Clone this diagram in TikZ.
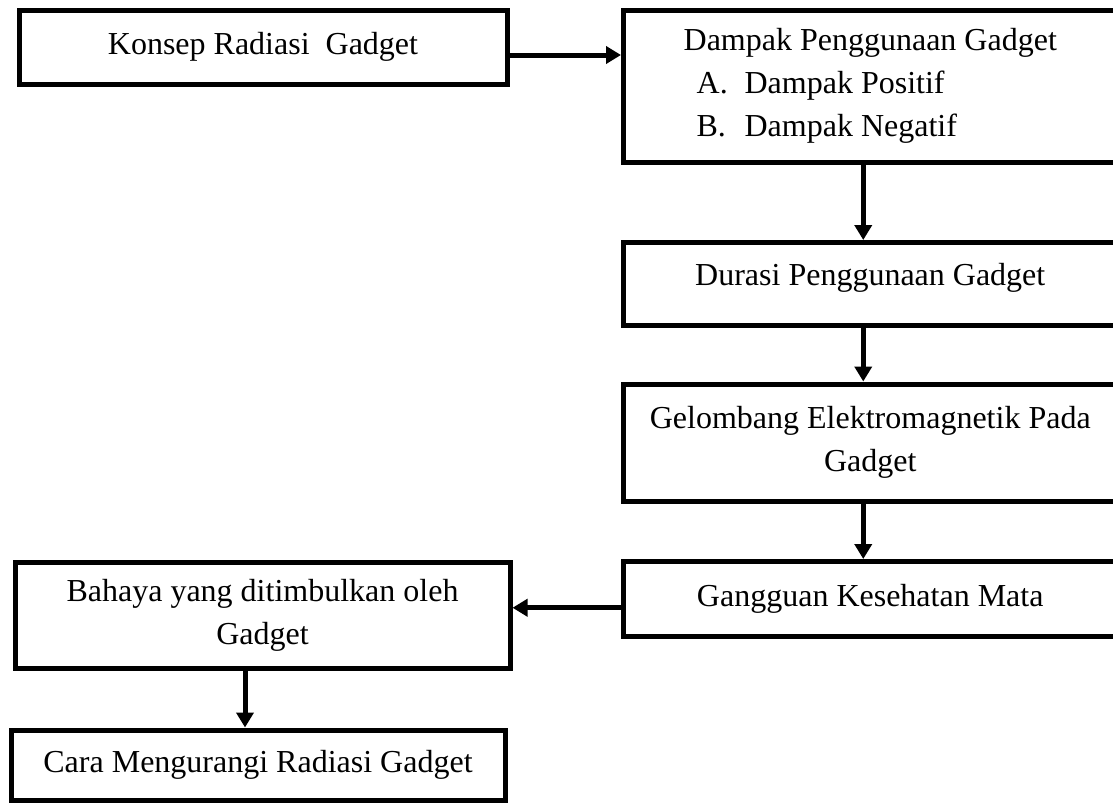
\documentclass[tikz,border=0pt]{standalone}
\usepackage{fontspec}
\setmainfont{Liberation Serif}
\usetikzlibrary{arrows.meta}

\begin{document}
\begin{tikzpicture}[
  x=0.5pt, y=-0.5pt,
  box/.style={draw, line width=2.5pt, inner sep=0pt, align=center,
              font=\fontsize{16}{21.5}\selectfont},
  arr/.style={line width=2.5pt, -{Triangle[length=7.5pt, width=8.5pt]}},
]
  % Page
  \useasboundingbox (0,0) rectangle (1113,803);
  \clip (0,0) rectangle (1113,803);

  % Left column
  \node[box, minimum width=244pt, minimum height=37pt] (konsep) at (263,47)
    {Konsep Radiasi\ \ Gadget};
  \node[box, minimum width=247.5pt, minimum height=53pt] (bahaya) at (262.5,615.5)
    {Bahaya yang ditimbulkan oleh\\Gadget};
  \node[box, minimum width=247pt, minimum height=35pt] (cara) at (258,765)
    {Cara Mengurangi Radiasi Gadget};

  % Right column
  \node[box, align=left, minimum width=246.75pt, minimum height=76pt] (dampak) at (870.25,86)
    {Dampak Penggunaan Gadget\\
     \hspace*{6.5pt}\makebox[24pt][l]{A.}Dampak Positif\\
     \hspace*{6.5pt}\makebox[24pt][l]{B.}Dampak Negatif};
  \node[box, minimum width=246.75pt, minimum height=41.25pt, text depth=9.5pt] (durasi) at (870.25,283.75)
    {Durasi Penggunaan Gadget};
  \node[box, minimum width=246.75pt, minimum height=58.5pt] (gelombang) at (870.25,442.5)
    {Gelombang Elektromagnetik Pada\\Gadget};
  \node[box, minimum width=246.75pt, minimum height=37.25pt] (gangguan) at (870.25,598.75)
    {Gangguan Kesehatan Mata};

  % Arrows
  \draw[arr] ([yshift=-4pt]konsep.east) -- ([yshift=-4pt]konsep.east -| dampak.west);
  \draw[arr] ([xshift=-3.5pt]dampak.south) -- ([xshift=-3.5pt]dampak.south |- durasi.north);
  \draw[arr] ([xshift=-3.5pt]durasi.south) -- ([xshift=-3.5pt]durasi.south |- gelombang.north);
  \draw[arr] ([xshift=-3.5pt]gelombang.south) -- ([xshift=-3.5pt]gelombang.south |- gangguan.north);
  \draw[arr] ([yshift=-4.5pt]gangguan.west) -- ([yshift=-4.5pt]gangguan.west -| bahaya.east);
  \draw[arr] ([xshift=-8.75pt]bahaya.south) -- ([xshift=-8.75pt]bahaya.south |- cara.north);

\end{tikzpicture}
\end{document}
